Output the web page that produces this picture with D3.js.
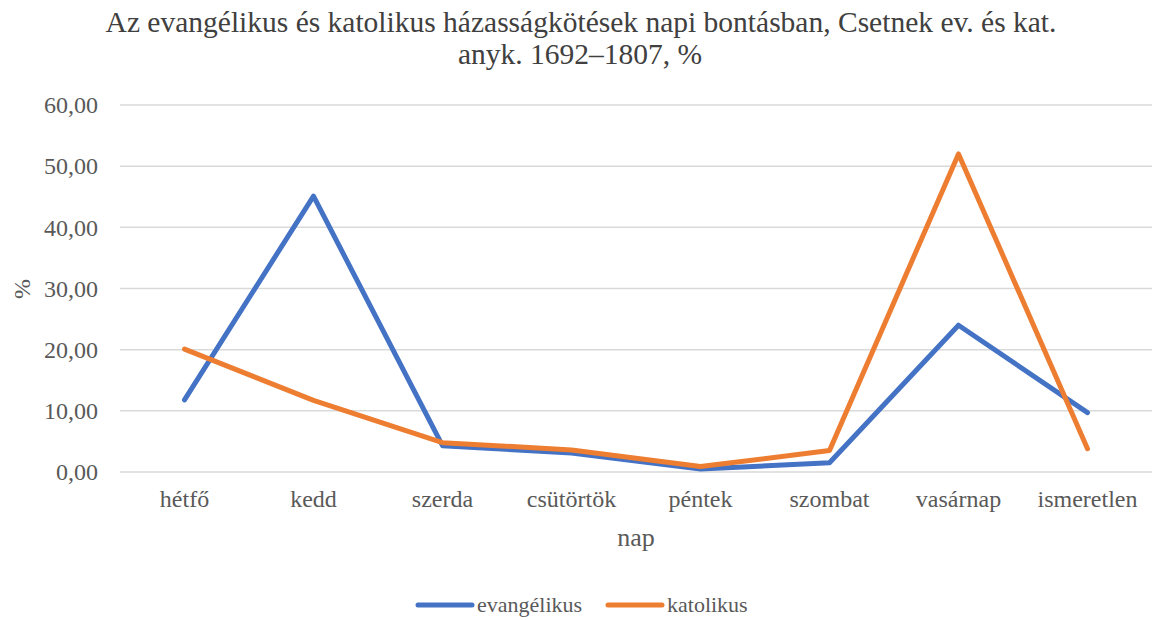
<!DOCTYPE html>
<html>
<head>
<meta charset="utf-8">
<script src="https://cdn.jsdelivr.net/npm/d3@7"></script>
</head>
<body style="margin:0">
<script>
// chart data
var days = ["hétfő", "kedd", "szerda", "csütörtök", "péntek", "szombat", "vasárnap", "ismeretlen"];
var evangelikus = [11.8, 45.1, 4.3, 3.1, 0.5, 1.5, 24.0, 9.7];
var katolikus = [20.1, 11.7, 4.8, 3.6, 0.9, 3.5, 52.0, 3.8];
var yTicks = [0, 10, 20, 30, 40, 50, 60];

var svgWidth = 1153;
var svgHeight = 620;

var margin = { top: 105, right: 1, bottom: 148, left: 120 };
var width = svgWidth - margin.left - margin.right;
var height = svgHeight - margin.top - margin.bottom;

var svg = d3.select("body")
  .append("svg")
  .attr("width", svgWidth)
  .attr("height", svgHeight);

var chartGroup = svg.append("g")
  .attr("transform", `translate(${margin.left}, ${margin.top})`);

var xScale = d3.scaleBand()
  .domain(days)
  .range([0, width]);

var yScale = d3.scaleLinear()
  .domain([0, 60])
  .range([height, 0]);

// gridlines
chartGroup.selectAll(".grid")
  .data(yTicks)
  .enter()
  .append("line")
  .attr("x1", 0)
  .attr("x2", width)
  .attr("y1", d => yScale(d))
  .attr("y2", d => yScale(d))
  .attr("stroke", "#d9d9d9")
  .attr("stroke-width", 1.5);

// y axis labels (drop d3's sans-serif default)
var leftAxis = d3.axisLeft(yScale)
  .tickValues(yTicks)
  .tickSize(0)
  .tickPadding(22)
  .tickFormat(d => d3.format(".2f")(d).replace(".", ","));

chartGroup.append("g")
  .call(leftAxis)
  .attr("font-family", null)
  .attr("font-size", 24)
  .call(g => g.select(".domain").remove())
  .selectAll("text")
  .attr("fill", "#595959");

// x axis labels
var bottomAxis = d3.axisBottom(xScale)
  .tickSize(0)
  .tickPadding(18);

chartGroup.append("g")
  .attr("transform", `translate(0, ${height})`)
  .call(bottomAxis)
  .attr("font-family", null)
  .attr("font-size", 24)
  .call(g => g.select(".domain").remove())
  .selectAll("text")
  .attr("fill", "#595959");

// lines
var series = [
  { name: "evangélikus", values: evangelikus, color: "#4472C4" },
  { name: "katolikus", values: katolikus, color: "#ED7D31" }
];

var lineGen = d3.line()
  .x((d, i) => xScale(days[i]) + xScale.bandwidth() / 2)
  .y(d => yScale(d));

chartGroup.selectAll(".series")
  .data(series)
  .enter()
  .append("path")
  .attr("d", d => lineGen(d.values))
  .attr("fill", "none")
  .attr("stroke", d => d.color)
  .attr("stroke-width", 5)
  .attr("stroke-linecap", "round")
  .attr("stroke-linejoin", "round");

// title
var title = svg.append("text")
  .attr("text-anchor", "middle")
  .attr("fill", "#404040")
  .attr("font-size", 29.5);
title.append("tspan")
  .attr("x", 581)
  .attr("y", 32)
  .text("Az evangélikus és katolikus házasságkötések napi bontásban, Csetnek ev. és kat.");
title.append("tspan")
  .attr("x", 580)
  .attr("y", 64)
  .text("anyk. 1692–1807, %");

// axis titles
svg.append("text")
  .attr("x", 636)
  .attr("y", 546)
  .attr("text-anchor", "middle")
  .attr("fill", "#595959")
  .attr("font-size", 26)
  .text("nap");

svg.append("text")
  .attr("transform", "translate(30, 289) rotate(-90)")
  .attr("text-anchor", "middle")
  .attr("fill", "#595959")
  .attr("font-size", 24)
  .text("%");

// legend
var legendX = [418, 608];
var legend = svg.selectAll(".legend")
  .data(series)
  .enter()
  .append("g")
  .attr("transform", (d, i) => `translate(${legendX[i]}, 605)`);

legend.append("line")
  .attr("x1", 0)
  .attr("x2", 54)
  .attr("stroke", d => d.color)
  .attr("stroke-width", 5)
  .attr("stroke-linecap", "round");

legend.append("text")
  .attr("x", 59)
  .attr("y", 7)
  .attr("fill", "#595959")
  .attr("font-size", 22)
  .text(d => d.name);
</script>
</body>
</html>
